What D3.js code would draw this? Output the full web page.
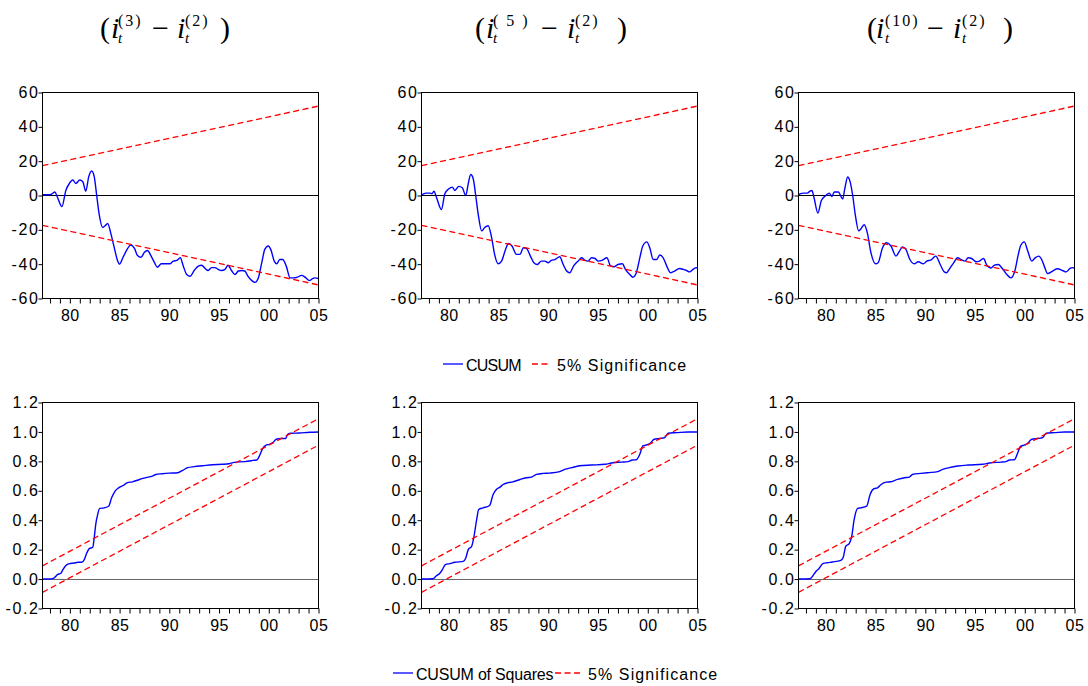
<!DOCTYPE html>
<html>
<head>
<meta charset="utf-8">
<script src="https://cdn.jsdelivr.net/npm/d3@7"></script>
<style>
body { margin: 0; background: #fff; }
svg { display: block; font-family: "Liberation Sans", Arial, sans-serif; }
</style>
</head>
<body>
<svg id="chart" width="1088" height="686"></svg>
<script>
// maturities in the titles (i_t^(n) - i_t^(2))
const maturities = ['(3)', '( 5 )', '(10)'];

// CUSUM, [year, value]
const cusum3 = [[1977.25,0.4],[1977.9,0.4],[1978.2,1],[1978.5,2],[1978.75,-1],[1979.2,-6.5],[1979.6,3],[1979.95,7],[1980.3,9],[1980.6,7],[1981.0,9],[1981.3,8],[1981.6,2.5],[1981.9,11],[1982.2,14.3],[1982.45,11],[1982.7,0],[1982.95,-11],[1983.3,-18.6],[1983.55,-17.6],[1983.8,-16.3],[1984.1,-21.6],[1984.45,-30],[1984.8,-38],[1985.0,-40],[1985.35,-36],[1985.8,-31],[1986.1,-28.8],[1986.5,-30.8],[1986.8,-35],[1987.15,-36],[1987.5,-33],[1987.8,-32],[1988.15,-35],[1988.5,-39],[1988.8,-41.8],[1989.2,-39.8],[1989.65,-39.8],[1990.05,-39.8],[1990.4,-38.2],[1990.75,-37.8],[1991.1,-36.3],[1991.4,-41],[1991.75,-46],[1992.1,-47],[1992.5,-43.7],[1992.95,-41],[1993.25,-40.6],[1993.6,-42.5],[1993.9,-43.7],[1994.25,-42],[1994.6,-42],[1994.9,-43],[1995.25,-43.7],[1995.6,-43],[1995.9,-40.6],[1996.25,-43.7],[1996.6,-46],[1996.95,-44],[1997.3,-43.7],[1997.6,-44],[1997.9,-47],[1998.3,-49.6],[1998.6,-50.6],[1998.95,-48],[1999.3,-39],[1999.6,-31.4],[1999.95,-29.4],[2000.2,-31.4],[2000.55,-38.2],[2000.8,-39.8],[2001.1,-37.3],[2001.4,-37.3],[2001.75,-41],[2002.15,-48],[2002.5,-48],[2002.9,-47.5],[2003.3,-46.5],[2003.65,-47.6],[2004.1,-49.6],[2004.4,-48.4],[2004.65,-48],[2005,-48.4]];
const cusum5 = [[1977.25,0.4],[1977.7,1.4],[1978.1,1.4],[1978.3,1],[1978.5,2.5],[1978.75,-1],[1979.25,-8.2],[1979.6,1],[1980.0,3.9],[1980.35,4.9],[1980.6,2.9],[1981.0,5.3],[1981.35,4.5],[1981.7,0],[1981.95,6.9],[1982.2,12.2],[1982.45,9.8],[1982.7,0],[1982.95,-10.8],[1983.3,-20.6],[1983.6,-18.6],[1983.95,-17.6],[1984.3,-24.5],[1984.6,-34.3],[1984.95,-39.8],[1985.3,-38.2],[1985.7,-31.4],[1986.0,-28],[1986.35,-29.4],[1986.8,-34.3],[1987.15,-34.3],[1987.5,-30.4],[1987.8,-30.8],[1988.2,-35.3],[1988.55,-39.2],[1988.9,-40.2],[1989.3,-38.2],[1989.65,-38.2],[1990.0,-39.2],[1990.3,-37.8],[1990.65,-37.3],[1991.15,-35.7],[1991.5,-40.2],[1991.85,-44],[1992.15,-45],[1992.55,-41],[1993.0,-38.2],[1993.35,-36.3],[1993.65,-37.6],[1994.0,-38.2],[1994.35,-36.3],[1994.7,-36.7],[1995.0,-38.2],[1995.4,-37.8],[1995.9,-36.3],[1996.25,-41],[1996.6,-41.5],[1997.0,-40.2],[1997.45,-39.8],[1997.75,-43],[1998.2,-46],[1998.5,-47.6],[1998.85,-45],[1999.2,-36.3],[1999.5,-29.4],[1999.9,-27],[2000.2,-30.4],[2000.55,-37.3],[2000.9,-37.3],[2001.2,-34.7],[2001.55,-36.3],[2001.9,-41],[2002.3,-45],[2002.7,-44],[2003.2,-42.5],[2003.55,-43],[2003.9,-43.7],[2004.2,-44.5],[2004.55,-43],[2004.9,-42],[2005,-42.5]];
const cusum10 = [[1977.25,0.6],[1977.8,1.4],[1978.15,1.4],[1978.4,2.5],[1978.6,2.9],[1978.8,-1],[1979.2,-10.2],[1979.55,-2.9],[1980.0,0],[1980.35,1.4],[1980.6,-0.6],[1980.85,2],[1981.25,2],[1981.7,-2],[1981.9,3.9],[1982.2,10.8],[1982.4,8.8],[1982.7,0],[1982.95,-10.8],[1983.3,-20.6],[1983.5,-19.6],[1983.85,-17],[1984.2,-22.5],[1984.5,-32.4],[1985.0,-39.8],[1985.25,-39.2],[1985.7,-30.4],[1986.1,-27.5],[1986.55,-29.4],[1987.05,-35.3],[1987.4,-32.4],[1987.7,-30],[1988.05,-31.4],[1988.45,-37.3],[1988.9,-39.8],[1989.3,-38.6],[1989.8,-39.8],[1990.15,-38.2],[1990.55,-37.6],[1991.05,-35.3],[1991.5,-40.2],[1991.9,-44.5],[1992.15,-45],[1992.4,-43],[1992.85,-39.2],[1993.25,-36.3],[1993.6,-37.3],[1994.0,-38.2],[1994.3,-36.3],[1994.65,-36.7],[1995.1,-38.6],[1995.45,-38.2],[1995.85,-36.7],[1996.2,-40.8],[1996.6,-42.2],[1996.95,-40.6],[1997.35,-40.2],[1997.7,-42.2],[1998.2,-46],[1998.6,-48],[1999.0,-44],[1999.35,-34.3],[1999.6,-29],[1999.95,-27],[2000.3,-32.4],[2000.7,-38.2],[2001.05,-36.3],[2001.4,-35.3],[2001.7,-37.3],[2001.95,-41],[2002.3,-45.5],[2002.8,-44],[2003.3,-42.7],[2003.8,-43.7],[2004.15,-44.5],[2004.55,-42.5],[2004.8,-42],[2005,-42.5]];

// CUSUM of squares, [year, value]
const cusumsq3 = [[1977.25,0],[1977.9,0],[1978.4,0.007],[1978.75,0.03],[1979.1,0.04],[1979.3,0.064],[1979.6,0.093],[1979.95,0.105],[1980.45,0.109],[1980.8,0.114],[1981.2,0.114],[1981.45,0.132],[1981.7,0.177],[1981.95,0.207],[1982.3,0.216],[1982.45,0.28],[1982.6,0.37],[1982.8,0.44],[1983.0,0.48],[1983.45,0.484],[1983.9,0.495],[1984.2,0.552],[1984.55,0.598],[1984.9,0.62],[1985.35,0.636],[1985.8,0.655],[1986.3,0.661],[1987.0,0.677],[1987.65,0.689],[1988.3,0.7],[1988.65,0.711],[1989.3,0.716],[1990.0,0.72],[1990.85,0.723],[1991.35,0.739],[1991.85,0.757],[1992.5,0.764],[1993.35,0.77],[1994.35,0.777],[1995.35,0.78],[1996.0,0.784],[1996.7,0.795],[1997.55,0.798],[1998.05,0.802],[1998.4,0.807],[1998.8,0.809],[1999.05,0.836],[1999.4,0.889],[1999.7,0.909],[2000.05,0.916],[2000.4,0.927],[2000.75,0.95],[2001.25,0.955],[2001.7,0.955],[2001.9,0.984],[2002.25,0.991],[2003.1,0.993],[2004.1,0.998],[2005,1.0]];
const cusumsq5 = [[1977.25,0],[1978.4,0.002],[1978.75,0.023],[1979.1,0.04],[1979.35,0.064],[1979.65,0.098],[1980.1,0.105],[1980.6,0.114],[1981.45,0.12],[1981.7,0.143],[1981.95,0.2],[1982.3,0.223],[1982.5,0.28],[1982.8,0.405],[1983.0,0.473],[1983.45,0.484],[1984.1,0.5],[1984.45,0.575],[1984.8,0.61],[1985.15,0.625],[1985.45,0.643],[1985.95,0.655],[1986.45,0.661],[1987.15,0.677],[1987.8,0.689],[1988.3,0.693],[1988.8,0.711],[1989.5,0.718],[1990.15,0.72],[1991.15,0.73],[1991.65,0.745],[1992.35,0.757],[1993.15,0.77],[1994.35,0.775],[1995.7,0.78],[1996.35,0.789],[1997.35,0.795],[1998.0,0.798],[1998.45,0.809],[1998.85,0.811],[1999.2,0.848],[1999.5,0.905],[1999.85,0.911],[2000.2,0.92],[2000.65,0.95],[2001.2,0.955],[2001.7,0.961],[2002.05,0.991],[2002.9,0.995],[2004.05,1.0],[2005,1.0]];
const cusumsq10 = [[1977.25,0],[1978.4,0.002],[1978.65,0.018],[1979.0,0.052],[1979.3,0.07],[1979.7,0.105],[1980.15,0.111],[1980.65,0.116],[1981.5,0.127],[1981.75,0.148],[1982.0,0.223],[1982.35,0.241],[1982.6,0.29],[1982.85,0.405],[1983.2,0.48],[1983.5,0.484],[1984.1,0.495],[1984.45,0.575],[1984.85,0.614],[1985.2,0.62],[1985.55,0.643],[1986.05,0.659],[1986.55,0.661],[1987.2,0.677],[1987.9,0.689],[1988.4,0.693],[1988.7,0.711],[1989.55,0.718],[1990.25,0.723],[1991.25,0.73],[1991.75,0.745],[1992.4,0.757],[1993.25,0.768],[1994.25,0.775],[1995.75,0.78],[1996.45,0.789],[1997.6,0.795],[1998.1,0.798],[1998.45,0.809],[1998.95,0.811],[1999.3,0.859],[1999.55,0.9],[1999.95,0.911],[2000.3,0.923],[2000.7,0.95],[2001.3,0.955],[2001.8,0.961],[2002.15,0.991],[2003.0,0.995],[2004.0,1.0],[2005,1.0]];

// 5% significance lines, [year, value] at start and end of sample
const cusumUpper = [[1977.25, 17.4], [2005, 52.1]];
const cusumLower = [[1977.25, -17.4], [2005, -52.1]];
const sqUpper = [[1977.25, 0.09], [2005, 1.09]];
const sqLower = [[1977.25, -0.09], [2005, 0.91]];

const cusumTicks = [-60, -40, -20, 0, 20, 40, 60];
const sqTicks = [-0.2, 0.0, 0.2, 0.4, 0.6, 0.8, 1.0, 1.2];
const yearTicks = d3.range(1978, 2006);

const svg = d3.select('#chart');
const lefts = [42, 421, 798];
const pw = 276, ph = 206;
const x = d3.scaleLinear().domain([1977.25, 2005]).range([0, pw]);

function drawPanel(left, top, series, bands, yDomain, yTicks, fmt, zeroColor) {
  const y = d3.scaleLinear().domain(yDomain).range([ph, 0]);
  const g = svg.append('g').attr('transform', `translate(${left + 0.5},${top + 0.5})`);
  g.append('line').attr('x1', 0).attr('x2', pw)
    .attr('y1', Math.round(y(0))).attr('y2', Math.round(y(0)))
    .attr('stroke', zeroColor).attr('stroke-width', 1);
  const line = d3.line().x(d => x(d[0])).y(d => y(d[1]));
  g.append('path').attr('d', line.curve(d3.curveMonotoneX)(series))
    .attr('fill', 'none').attr('stroke', '#0000ff').attr('stroke-width', 1.4);
  bands.forEach(b => {
    g.append('path').attr('d', d3.line().x(d => x(d[0])).y(d => y(d[1]))(b))
      .attr('fill', 'none').attr('stroke', '#ff0000').attr('stroke-width', 1.3)
      .attr('stroke-dasharray', '6,3.5');
  });
  g.append('rect').attr('width', pw).attr('height', ph)
    .attr('fill', 'none').attr('stroke', '#000');

  const ya = g.append('g').call(d3.axisLeft(y).tickValues(yTicks).tickSize(4).tickPadding(-1).tickFormat(fmt));
  ya.select('.domain').remove();
  ya.selectAll('text').attr('font-size', 16).attr('letter-spacing', 1.6).attr('fill', '#000')
    .attr('font-family', '"Liberation Sans", Arial, sans-serif');
  const xa = g.append('g').attr('transform', `translate(0,${ph})`)
    .call(d3.axisBottom(x).tickValues(yearTicks).tickSize(5).tickPadding(6)
      .tickFormat(d => d % 5 === 0 ? String(d % 100).padStart(2, '0') : ''));
  xa.select('.domain').remove();
  xa.selectAll('text').attr('font-size', 16).attr('letter-spacing', 0.5).attr('fill', '#000')
    .attr('font-family', '"Liberation Sans", Arial, sans-serif');
}

const cusums = [cusum3, cusum5, cusum10];
const sqs = [cusumsq3, cusumsq5, cusumsq10];
lefts.forEach((l, i) => {
  drawPanel(l, 92, cusums[i], [cusumUpper, cusumLower], [-60, 60], cusumTicks, d => String(d), '#000');
  drawPanel(l, 402, sqs[i], [sqUpper, sqLower], [-0.2, 1.2], sqTicks, d => d.toFixed(1), '#666');
});

// titles, offsets measured from the opening bracket
const titleX = [100, 475, 867];
const titleOffsets = [
  {i1: 11, s1: 18, minus: 52, i2: 77, s2: 85, close: 120},
  {i1: 11, s1: 18, minus: 66, i2: 92, s2: 100, close: 142},
  {i1: 9, s1: 18, minus: 60, i2: 86, s2: 95, close: 136}
];
titleX.forEach((x0, k) => {
  const o = titleOffsets[k];
  const t = svg.append('g').attr('transform', `translate(${x0},38)`)
    .attr('font-family', '"Liberation Serif", "Times New Roman", serif').attr('fill', '#000');
  const big = (s, dx, italic) => t.append('text').attr('x', dx).attr('font-size', 30)
    .attr('font-style', italic ? 'italic' : 'normal').text(s);
  const small = (s, dx, dy, size, italic) => t.append('text').attr('x', dx).attr('y', dy).attr('font-size', size)
    .attr('letter-spacing', 2).attr('font-style', italic ? 'italic' : 'normal').text(s);
  big('(', 0);
  big('i', o.i1, true);
  small(maturities[k], o.s1, -12, 16);
  small('t', o.s1, 5, 15, true);
  big('\u2212', o.minus);
  big('i', o.i2, true);
  small('(2)', o.s2, -12, 16);
  small('t', o.s2, 5, 15, true);
  big(')', o.close);
});

// legends
function legend(y, items) {
  const g = svg.append('g').attr('font-size', 16).attr('fill', '#000');
  items.forEach(it => {
    g.append('line').attr('x1', it.x1).attr('x2', it.x2).attr('y1', y).attr('y2', y)
      .attr('stroke', it.color).attr('stroke-width', 1.3)
      .attr('stroke-dasharray', it.dash ? '6,3.5' : null);
    g.append('text').attr('x', it.tx).attr('y', y + 7).attr('letter-spacing', it.ls)
      .text(it.label);
  });
}
legend(364, [
  {x1: 443, x2: 463, color: '#0000ff', tx: 466, label: 'CUSUM', ls: -0.8},
  {x1: 532, x2: 551, color: '#ff0000', dash: true, tx: 557, label: '5% Significance', ls: 1.1}
]);
legend(673, [
  {x1: 393, x2: 413, color: '#0000ff', tx: 416, label: 'CUSUM of Squares', ls: -0.2},
  {x1: 555, x2: 582, color: '#ff0000', dash: true, tx: 588, label: '5% Significance', ls: 1.1}
]);
</script>
</body>
</html>
